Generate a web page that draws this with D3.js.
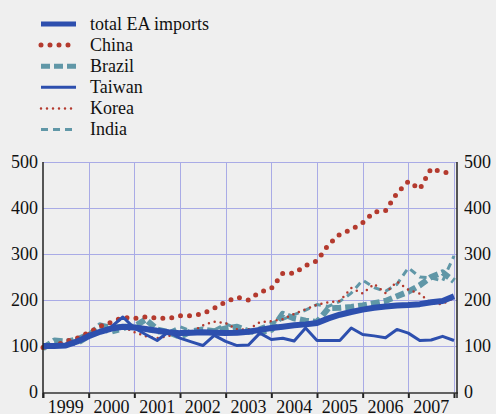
<!DOCTYPE html>
<html>
<head>
<meta charset="utf-8">
<script src="https://cdn.jsdelivr.net/npm/d3@7/dist/d3.min.js"></script>
<style>
  html, body { margin: 0; padding: 0; background: #efefef; }
  svg { display: block; }
  text { font-family: "Liberation Serif", "Times New Roman", serif; fill: #111; }
</style>
</head>
<body>
<div id="chart"></div>
<script>
// Quarterly index values, 1999Q1 .. 2008Q1 (1999 = 100)
const years = [1999, 2000, 2001, 2002, 2003, 2004, 2005, 2006, 2007];
const yTicks = [0, 100, 200, 300, 400, 500];

const totalEA = [100,100,101,110,121,131,138,142,140,137,133,130,128,129,130,129,128,129,131,135,139,142,145,147,150,160,168,174,179,183,186,188,189,191,195,198,208];
const china   = [97,100,110,117,129,143,152,162,160,163,161,160,166,166,170,182,196,206,200,217,225,258,258,275,285,320,343,353,368,391,394,432,458,441,486,478,476];
const brazil  = [95,112,110,106,122,145,139,142,142,158,136,130,120,132,136,132,138,142,132,130,135,170,160,155,152,182,183,185,188,193,198,208,218,232,250,260,241];
const taiwan  = [100,100,101,110,125,131,142,163,139,125,112,131,117,109,101,123,110,101,102,128,114,117,111,139,112,112,112,139,125,122,118,136,128,112,113,121,112];
const korea   = [98,101,106,115,127,135,140,142,130,121,117,122,127,130,145,153,150,136,136,152,154,158,170,180,190,195,198,226,214,235,215,240,222,214,193,191,205];
const india   = [102,108,112,118,128,135,128,135,145,135,128,130,142,132,128,135,148,138,128,140,150,158,168,178,190,186,197,215,243,227,219,234,270,250,248,241,296];

const blue = "#2d4fae", red = "#b43a2e", teal = "#6097a7";

const series = [
  { name: "total EA imports", values: totalEA, color: blue, width: 6,   dash: null,   cap: "butt"  },
  { name: "China",            values: china,   color: red,  width: 5,   dash: "0 9",  cap: "round" },
  { name: "Brazil",           values: brazil,  color: teal, width: 6,   dash: "9 4",  cap: "butt"  },
  { name: "Taiwan",           values: taiwan,  color: blue, width: 3,   dash: null,   cap: "butt"  },
  { name: "Korea",            values: korea,   color: red,  width: 2.5, dash: "0 6",  cap: "round" },
  { name: "India",            values: india,   color: teal, width: 3,   dash: "7 5",  cap: "butt"  }
];

const W = 496, H = 414;
const plotL = 43, plotR = 457, plotT = 162, plotB = 392;

const svg = d3.select("#chart").append("svg")
  .attr("width", W).attr("height", H);

svg.append("rect").attr("width", W).attr("height", H).attr("fill", "#efefef");

const x = d3.scaleLinear().domain([1999, 2008]).range([plotL, 454]);
const y = d3.scaleLinear().domain([0, 500]).range([plotB, plotT]);

// grid
const grid = svg.append("g").attr("stroke", "#a9abe6").attr("stroke-width", 1);
grid.selectAll(".h").data(yTicks.filter(d => d > 0)).enter().append("line")
  .attr("x1", plotL).attr("x2", plotR)
  .attr("y1", d => Math.round(y(d)) + 0.5).attr("y2", d => Math.round(y(d)) + 0.5);
grid.selectAll(".v").data(years.slice(1).concat([2008])).enter().append("line")
  .attr("x1", d => Math.round(x(d)) + 0.5).attr("x2", d => Math.round(x(d)) + 0.5)
  .attr("y1", plotT).attr("y2", plotB);

// lines, drawn back to front
const line = d3.line()
  .x((d, i) => x(1999 + i / 4))
  .y(d => y(d));

const drawOrder = ["India", "Brazil", "Korea", "China", "total EA imports", "Taiwan"];
drawOrder.forEach(n => {
  const s = series.find(d => d.name === n);
  svg.append("path")
    .datum(s.values)
    .attr("fill", "none")
    .attr("stroke", s.color)
    .attr("stroke-width", s.width)
    .attr("stroke-dasharray", s.dash)
    .attr("stroke-linecap", s.cap)
    .attr("stroke-linejoin", "round")
    .attr("d", line);
});

// axes
const yl = svg.append("g").attr("transform", `translate(${plotL},0)`)
  .call(d3.axisLeft(y).tickValues(yTicks).tickSize(0).tickPadding(5));
const yr = svg.append("g").attr("transform", `translate(${plotR},0)`)
  .call(d3.axisRight(y).tickValues(yTicks).tickSize(0).tickPadding(7));
[yl, yr].forEach(g => {
  g.select(".domain").remove();
  g.selectAll("text").attr("font-size", 18).attr("font-family", "Liberation Serif").attr("fill", "#111");
});

const xb = svg.append("g").attr("transform", `translate(0,${plotB + 1})`)
  .call(d3.axisBottom(x).tickValues(years.concat([2008])).tickSize(5).tickFormat(""));
xb.select(".domain").remove();
xb.selectAll(".tick line").attr("stroke", "#222").attr("stroke-width", 2);

svg.append("line").attr("x1", plotL).attr("x2", plotR + 1)
  .attr("y1", plotB + 1).attr("y2", plotB + 1)
  .attr("stroke", "#333").attr("stroke-width", 1.5);
svg.append("line").attr("x1", plotL).attr("x2", plotL)
  .attr("y1", plotT).attr("y2", plotB + 6)
  .attr("stroke", "#222").attr("stroke-width", 1.5);
svg.append("line").attr("x1", plotR).attr("x2", plotR)
  .attr("y1", plotT).attr("y2", plotB + 6)
  .attr("stroke", "#222").attr("stroke-width", 1.5);

svg.append("g").selectAll("text").data(years).enter().append("text")
  .attr("x", d => x(d + 0.5))
  .attr("y", 413)
  .attr("text-anchor", "middle")
  .attr("font-size", 18)
  .text(d => d);

// legend
const legend = svg.append("g");
series.forEach((s, i) => {
  const ly = 24 + i * 21.1;
  legend.append("line")
    .attr("x1", 41).attr("x2", 76)
    .attr("y1", ly).attr("y2", ly)
    .attr("stroke", s.color)
    .attr("stroke-width", s.width === 6 ? 5 : s.width)
    .attr("stroke-dasharray", s.dash)
    .attr("stroke-linecap", s.cap);
  legend.append("text")
    .attr("x", 90).attr("y", ly + 5.5)
    .attr("font-size", 18)
    .text(s.name);
});
</script>
</body>
</html>
